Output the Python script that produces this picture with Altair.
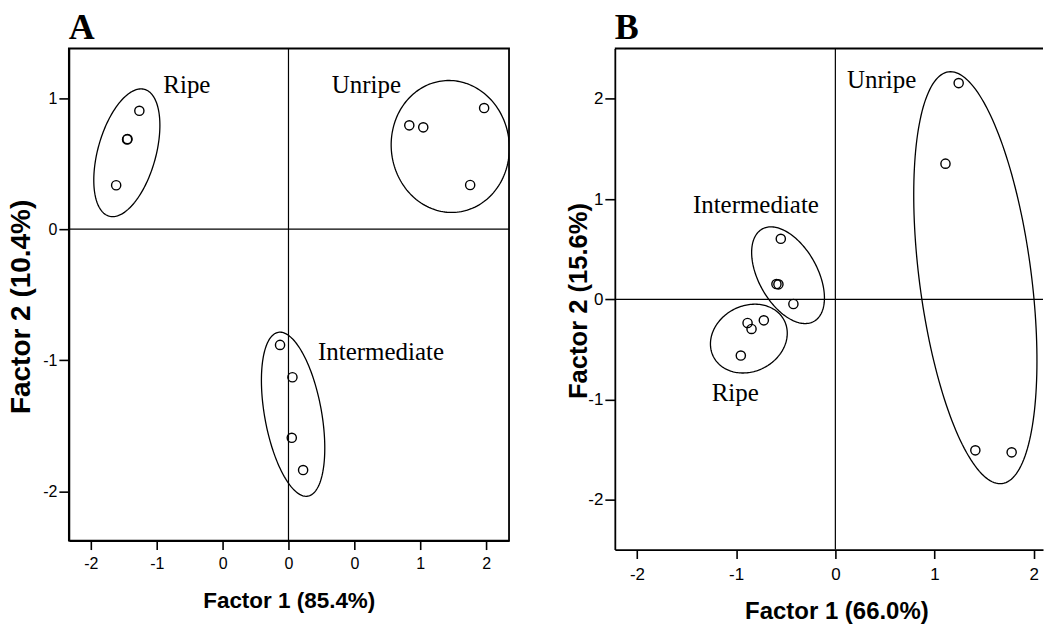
import numpy as np
import pandas as pd
import altair as alt

SANS = "Liberation Sans"
SERIF = "Liberation Serif"

# ---- Panel A: factor scores ----
a_group = ["Ripe"] * 4 + ["Unripe"] * 4 + ["Intermediate"] * 4
a_f1 = [-1.132, -1.225, -1.222, -1.308, 0.917, 1.023, 1.485, 1.379, -0.064, 0.030, 0.025, 0.111]
a_f2 = [0.903, 0.685, 0.688, 0.335, 0.792, 0.777, 0.924, 0.337, -0.883, -1.130, -1.592, -1.838]

# ---- Panel B: factor scores ----
b_group = ["Unripe"] * 4 + ["Intermediate"] * 4 + ["Ripe"] * 4
b_f1 = [1.243, 1.110, 1.411, 1.777, -0.550, -0.594, -0.574, -0.423, -0.885, -0.845, -0.721, -0.953]
b_f2 = [2.156, 1.353, -1.505, -1.525, 0.604, 0.153, 0.150, -0.046, -0.235, -0.295, -0.209, -0.560]

# ---- group ellipses: centre, semi-axes, rotation (deg) ----
a_ell_name = ["Ripe", "Unripe", "Intermediate"]
a_ell_cx = [-1.227, 1.228, 0.035]
a_ell_cy = [0.583, 0.631, -1.412]
a_ell_a = [0.502, 0.504, 0.635]
a_ell_b = [0.220, 0.448, 0.216]
a_ell_rot = [74.5, 96.0, 100.2]

b_ell_name = ["Intermediate", "Ripe", "Unripe"]
b_ell_cx = [-0.477, -0.872, 1.411]
b_ell_cy = [0.241, -0.391, 0.216]
b_ell_a = [0.529, 0.400, 2.070]
b_ell_b = [0.295, 0.328, 0.564]
b_ell_rot = [119.8, 26.0, 97.5]

# ---- group labels ----
a_lab_text = ["Ripe", "Unripe", "Intermediate"]
a_lab_x = [-0.950, 0.328, 0.224]
a_lab_y = [1.036, 1.036, -0.995]

b_lab_text = ["Unripe", "Intermediate", "Ripe"]
b_lab_x = [0.117, -1.436, -1.247]
b_lab_y = [2.109, 0.860, -1.015]

# ---- axes ----
a_xticks = [-1.5, -1.0, -0.5, 0.0, 0.5, 1.0, 1.5]
a_xlabels = ["-2", "-1", "0", "0", "0", "1", "2"]
a_yticks = [-2, -1, 0, 1]
a_ylabels = ["-2", "-1", "0", "1"]
b_xticks = [-2, -1, 0, 1, 2]
b_xlabels = ["-2", "-1", "0", "1", "2"]
b_yticks = [-2, -1, 0, 1, 2]
b_ylabels = ["-2", "-1", "0", "1", "2"]


def label_expr(vals, labels):
    expr = "''"
    for v, l in reversed(list(zip(vals, labels))):
        expr = f"abs(datum.value - ({v})) < 1e-6 ? '{l}' : ({expr})"
    return expr


def ellipse_frame(names, cx, cy, a, b, rot):
    rows = []
    phi = np.linspace(0, 2 * np.pi, 181)
    for n, x0, y0, sa, sb, r in zip(names, cx, cy, a, b, rot):
        t = np.deg2rad(r)
        xs = x0 + sa * np.cos(phi) * np.cos(t) - sb * np.sin(phi) * np.sin(t)
        ys = y0 + sa * np.cos(phi) * np.sin(t) + sb * np.sin(phi) * np.cos(t)
        for i, (xx, yy) in enumerate(zip(xs, ys)):
            rows.append({"group": n, "i": i, "f1": xx, "f2": yy})
    return pd.DataFrame(rows)


def panel(letter, groups, f1, f2, ell, labs, xdom, ydom, w, h,
          xticks, xlabels, yticks, ylabels, xtitle, ytitle,
          label_size, label_pad, xtitle_size, ytitle_size, xtitle_pos, ytitle_pos,
          frame_right=True):
    pts = pd.DataFrame({"group": groups, "f1": f1, "f2": f2})
    lab = pd.DataFrame({"text": labs[0], "f1": labs[1], "f2": labs[2]})

    common_axis = dict(
        grid=False, domainColor="black", domainWidth=1.8,
        tickColor="black", tickWidth=1.6, labelColor="black",
        labelFont=SANS, labelFontSize=label_size, labelFlush=False,
        labelOverlap=False, titleFont=SANS, titleFontWeight="bold",
        titleColor="black", titleBaseline="alphabetic", titleAlign="center",
    )
    x_axis = alt.Axis(values=xticks, labelExpr=label_expr(xticks, xlabels),
                      title=xtitle, tickSize=9, labelPadding=label_pad,
                      titleFontSize=xtitle_size, titleX=xtitle_pos[0],
                      titleY=xtitle_pos[1], **common_axis)
    y_axis = alt.Axis(values=yticks, labelExpr=label_expr(yticks, ylabels),
                      title=ytitle, tickSize=10, labelPadding=2,
                      titleFontSize=ytitle_size, titleAngle=270,
                      titleX=ytitle_pos[0], titleY=ytitle_pos[1], **common_axis)

    def xe():
        return alt.X("f1:Q", scale=alt.Scale(domain=xdom, nice=False, zero=False), axis=x_axis)

    def ye():
        return alt.Y("f2:Q", scale=alt.Scale(domain=ydom, nice=False, zero=False), axis=y_axis)

    zero = pd.DataFrame({"f1": [0.0], "f2": [0.0]})
    vline = alt.Chart(zero).mark_rule(color="black", strokeWidth=1.2).encode(x=xe())
    hline = alt.Chart(zero).mark_rule(color="black", strokeWidth=1.2).encode(y=ye())

    ellipses = alt.Chart(ellipse_frame(*ell)).mark_line(
        color="black", strokeWidth=1.3, clip=True
    ).encode(x=xe(), y=ye(), detail="group:N", order="i:Q")

    points = alt.Chart(pts).mark_point(
        shape="circle", filled=False, size=85, strokeWidth=1.4,
        color="black", opacity=1
    ).encode(x=xe(), y=ye())

    texts = alt.Chart(lab).mark_text(
        font=SERIF, fontSize=25, align="left", baseline="alphabetic", color="black"
    ).encode(x=xe(), y=ye(), text="text:N")

    layers = [vline, hline, ellipses, points, texts]
    props = dict(
        width=w, height=h,
        title=alt.TitleParams(text=letter, font=SERIF, fontSize=36, fontWeight="bold",
                              anchor="start", frame="group", baseline="alphabetic",
                              offset=-27, color="black"),
    )
    if not frame_right:
        top_rule = alt.Chart(zero).mark_rule(color="black", strokeWidth=1.8).encode(
            x=alt.value(0), x2=alt.value(w), y=alt.value(0))
        layers.append(top_rule)
        props["view"] = alt.ViewBackground(strokeOpacity=0)
    return alt.layer(*layers).properties(**props)


a_w, a_h = 441, 493
b_w, b_h = 429, 502

chart_a = panel(
    "A", a_group, a_f1, a_f2,
    (a_ell_name, a_ell_cx, a_ell_cy, a_ell_a, a_ell_b, a_ell_rot),
    (a_lab_text, a_lab_x, a_lab_y),
    [-1.667, 1.674], [-2.376, 1.3785], a_w, a_h,
    a_xticks, a_xlabels, a_yticks, a_ylabels,
    "Factor 1 (85.4%)", "Factor 2 (10.4%)",
    16, 6, 22.5, 28, (220.3, 66.6), (-39.5, 258.4),
)

chart_b = panel(
    "B", b_group, b_f1, b_f2,
    (b_ell_name, b_ell_cx, b_ell_cy, b_ell_a, b_ell_b, b_ell_rot),
    (b_lab_text, b_lab_x, b_lab_y),
    [-2.223, 2.093], [-2.494, 2.501], b_w, b_h,
    b_xticks, b_xlabels, b_yticks, b_ylabels,
    "Factor 1 (66.0%)", "Factor 2 (15.6%)",
    17, 8, 24, 25.6, (222, 69), (-28, 252.5),
    frame_right=False,
)

chart = alt.hconcat(chart_a, chart_b, spacing=56).properties(
    padding={"left": 6, "top": 8, "right": 0, "bottom": 0},
    background="white",
).configure_view(stroke="black", strokeWidth=1.8)

chart.save("out.html", embed_options={"renderer": "svg", "actions": False})
